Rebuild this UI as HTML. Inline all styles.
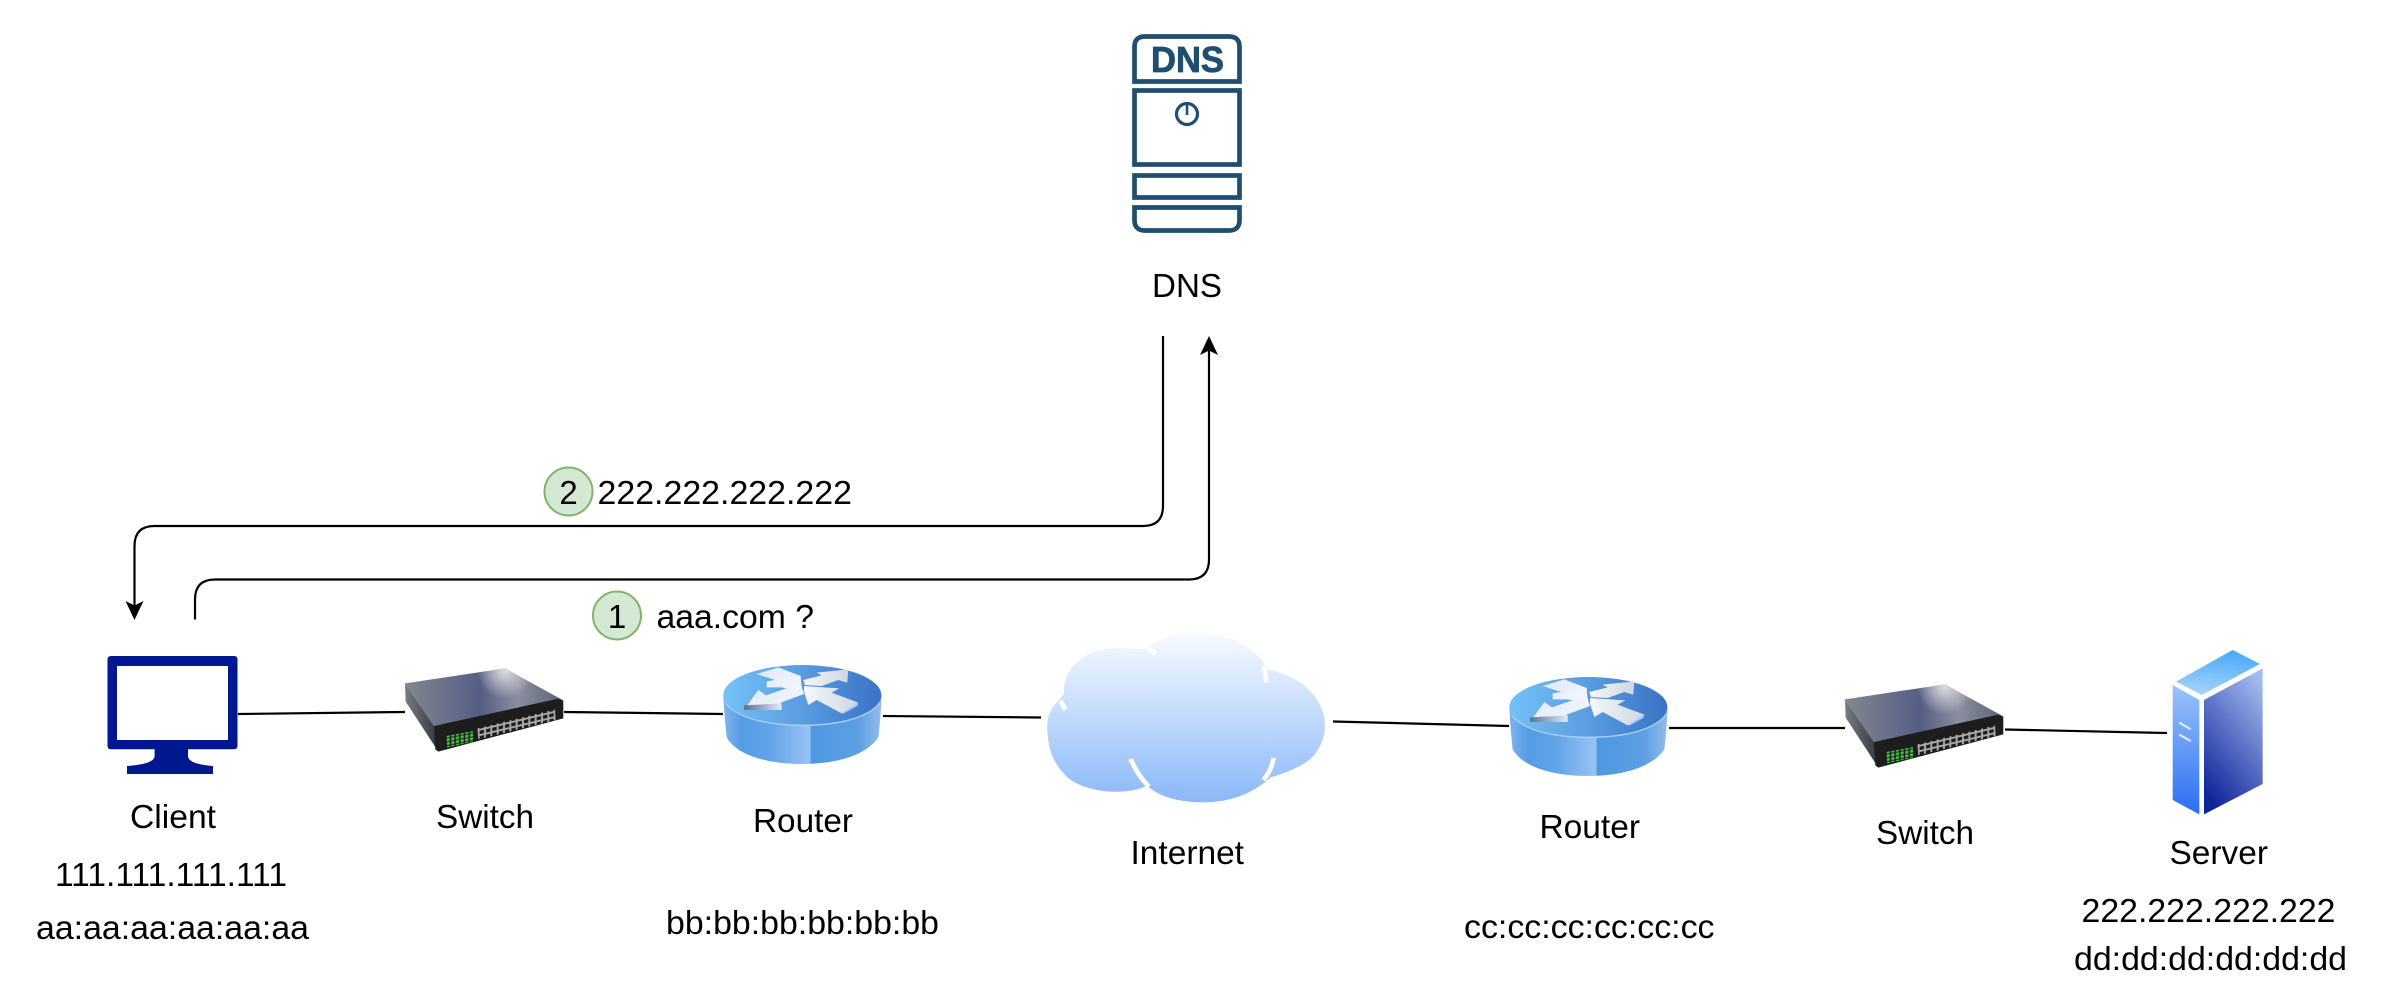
<!DOCTYPE html>
<html>
<head>
<meta charset="utf-8">
<style>
html,body{margin:0;padding:0;background:#fff}
svg{display:block}
text{font-family:"Liberation Sans",Arial,sans-serif;font-size:33px;fill:#000}
</style>
</head>
<body>
<svg xmlns="http://www.w3.org/2000/svg" width="2394" height="1004" viewBox="0 0 2394 1004">
<defs>
  <linearGradient id="cloudG" gradientUnits="userSpaceOnUse" x1="0" y1="38" x2="0" y2="547">
    <stop offset="0" stop-color="#f8fbff"/><stop offset="1" stop-color="#8ab8f8"/>
  </linearGradient>
  <linearGradient id="rTop" x1="0" y1="0" x2="1" y2="0">
    <stop offset="0" stop-color="#72c2f8"/><stop offset=".5" stop-color="#5a9ce0"/><stop offset="1" stop-color="#3a72c6"/>
  </linearGradient>
  <linearGradient id="rBody" gradientUnits="userSpaceOnUse" x1="40" y1="0" x2="515" y2="0">
    <stop offset="0" stop-color="#7fb4ee"/><stop offset=".12" stop-color="#559ce4"/><stop offset=".3" stop-color="#62a4e8"/>
    <stop offset=".55" stop-color="#98c4f4"/><stop offset=".551" stop-color="#4f97e4"/><stop offset=".85" stop-color="#5c9fe2"/><stop offset="1" stop-color="#94bcec"/>
  </linearGradient>
  <linearGradient id="arrowG" x1="0" y1="0" x2="1" y2="0.6">
    <stop offset="0" stop-color="#dfe8fa"/><stop offset="1" stop-color="#f2f5fb"/>
  </linearGradient>
  <linearGradient id="arrowH" x1="0" y1="0" x2="1" y2="0">
    <stop offset="0" stop-color="#f6f8fc"/><stop offset="1" stop-color="#ced7e0"/>
  </linearGradient>
  <linearGradient id="arrowD" x1="0" y1="0" x2="1" y2="0">
    <stop offset="0" stop-color="#5f6f96"/><stop offset="1" stop-color="#e2eafa"/>
  </linearGradient>
  <linearGradient id="sTop" gradientUnits="userSpaceOnUse" x1="45" y1="0" x2="515" y2="0">
    <stop offset="0" stop-color="#83888f"/><stop offset=".48" stop-color="#555d85"/><stop offset=".72" stop-color="#8a8d9e"/><stop offset="1" stop-color="#5e6476"/>
  </linearGradient>
  <radialGradient id="sHi" gradientUnits="userSpaceOnUse" cx="345" cy="62" r="85">
    <stop offset="0" stop-color="#dcdce0"/><stop offset="1" stop-color="#dcdce0" stop-opacity="0"/>
  </radialGradient>
  <linearGradient id="sLeft" x1="0" y1="0" x2="1" y2="0">
    <stop offset="0" stop-color="#777c86"/><stop offset="1" stop-color="#33353c"/>
  </linearGradient>
  <pattern id="ports" patternUnits="userSpaceOnUse" width="19" height="16" patternTransform="skewY(-13.5)">
    <rect width="19" height="16" fill="#a8a8a8"/><rect x="3" y="3" width="13" height="10" fill="#1c1c1c"/>
  </pattern>
  <pattern id="leds" patternUnits="userSpaceOnUse" width="14" height="11" patternTransform="skewY(-11)">
    <rect width="14" height="11" fill="#202020"/><rect x="2" y="2" width="9" height="8" fill="#3fc83f"/>
  </pattern>
  <linearGradient id="srvTop" x1="0.6" y1="0" x2="0.4" y2="1">
    <stop offset="0" stop-color="#48a8f8"/><stop offset="1" stop-color="#a4d4fb"/>
  </linearGradient>
  <linearGradient id="srvLeft" x1="0" y1="0" x2="0" y2="1">
    <stop offset="0" stop-color="#9cc4fa"/><stop offset="1" stop-color="#2a6ff2"/>
  </linearGradient>
  <linearGradient id="srvRight" x1="0.8" y1="0" x2="0.3" y2="1">
    <stop offset="0" stop-color="#a3bcef"/><stop offset="1" stop-color="#10249a"/>
  </linearGradient>

  <g id="switch" transform="translate(390 650) scale(.3333)">
    <polygon points="45,100 345,55 518,150 132,228" fill="url(#sTop)"/>
    <polygon points="45,100 345,55 518,150 132,228" fill="url(#sHi)"/>
    <polygon points="45,100 132,228 145,305 47,155" fill="url(#sLeft)"/>
    <polygon points="132,228 505,146 520,152 520,205 145,305 136,298" fill="#1d1d1d"/>
    <polygon points="262,235 495,178 497,210 265,268" fill="url(#ports)"/>
    <polygon points="168,258 250,243 250,275 172,292" fill="url(#leds)"/>
  </g>

  <g id="router" transform="translate(710 650) scale(.3333)">
    <path d="M40,135 C42,180 46,225 50,262 C80,315 170,342 275,342 C380,342 470,315 505,262 C510,225 513,180 515,135 Z" fill="url(#rBody)"/>
    <ellipse cx="277" cy="135" rx="237" ry="90" fill="url(#rTop)"/>
    <path d="M46,160 C85,205 170,226 277,226 C385,226 470,205 510,160" fill="none" stroke="#a9d0f6" stroke-width="4"/>
    <polygon points="103,178 145,120 168,136 272,100 282,132 212,158 215,180" fill="url(#arrowG)"/>
    <polygon points="102,166 215,160 215,180 102,180" fill="url(#arrowD)"/>
    <polygon points="140,72 205,52 272,78 276,125 215,112 170,112 170,94 195,90" fill="url(#arrowG)"/>
    <polygon points="320,68 415,58 412,98 385,90 335,108 285,105 280,90 335,76" fill="url(#arrowH)"/>
    <polygon points="282,108 388,115 365,128 445,158 395,190 320,150 295,165 282,125" fill="url(#arrowH)"/>
    <polygon points="395,190 445,158 442,168 402,190" fill="#a9c6f8"/>
  </g>
</defs>

<rect width="2394" height="1004" fill="#fff"/>

<!-- links -->
<g stroke="#000" stroke-width="2.200" fill="none">
  <line x1="238" y1="714" x2="405" y2="712"/>
  <line x1="564" y1="712" x2="723" y2="714"/>
  <line x1="883" y1="716" x2="1041" y2="717.500"/>
  <line x1="1333" y1="721.500" x2="1509" y2="726"/>
  <line x1="1669" y1="728" x2="1845" y2="728"/>
  <line x1="2005" y1="729.500" x2="2167" y2="733"/>
  <path d="M1163,336 V506 Q1163,526 1143,526 H154.500 Q134.500,526 134.500,546 V606"/>
  <path d="M195,619.500 V599.500 Q195,579.500 215,579.500 H1189 Q1209,579.500 1209,559.500 V350"/>
</g>
<polygon points="134.500,620 125.500,601 134.500,605.500 143.500,601" fill="#000"/>
<polygon points="1209,336 1200,355 1209,350.500 1218,355" fill="#000"/>

<!-- DNS icon -->
<g fill="none" stroke="#1f4e70" stroke-width="4.700">
  <path d="M1134.500,81.500 V47 Q1134.500,36.500 1145,36.500 H1229 Q1239.500,36.500 1239.500,47 V81.500 Z"/>
  <rect x="1134.500" y="90.500" width="105" height="74"/>
  <rect x="1134.500" y="175.500" width="105" height="22"/>
  <path d="M1134.500,207.500 V220 Q1134.500,230.500 1145,230.500 H1229 Q1239.500,230.500 1239.500,220 V207.500 Z"/>
  <circle cx="1187" cy="114" r="10.500" stroke-width="3.200"/>
  <line x1="1187" y1="105" x2="1187" y2="115" stroke-width="2.600"/>
</g>
<text x="1151" y="72" textLength="73" lengthAdjust="spacingAndGlyphs" style="font-weight:bold;font-size:36px;fill:#1f4e70;stroke:#1f4e70;stroke-width:.8px">DNS</text>

<!-- client -->
<path fill-rule="evenodd" fill="#00188f" d="M111,656 H234 Q237.500,656 237.500,659.500 V745.500 Q237.500,749.300 234,749.300 H188 V756 Q188,764 213,766 V774 H127 V766 Q154.600,764 154.600,756 V749.300 H111 Q107.500,749.300 107.500,745.500 V659.500 Q107.500,656 111,656 Z M117,666 V740 H228 V666 Z"/>

<use href="#switch"/>
<use href="#switch" transform="translate(1440 16)"/>
<use href="#router"/>
<use href="#router" transform="translate(786 12)"/>

<!-- cloud -->
<g transform="translate(1030 620) scale(.3333)">
  <path fill="url(#cloudG)" d="M85,243 C60,265 50,295 52,330 C55,390 70,430 110,470 C150,505 220,518 270,515 C310,513 335,505 352,497 C390,535 460,547 520,547 C600,547 670,520 722,472 C780,455 840,430 860,395 C880,365 885,340 885,315 C885,250 830,170 710,148 C690,90 600,38 490,38 C440,38 390,55 355,82 C320,90 300,85 260,85 C170,85 100,140 102,215 C103,225 90,235 85,243 Z"/>
  <g fill="none" stroke="#fff" stroke-width="14">
    <path d="M92,243 L106,270"/>
    <path d="M350,86 L378,100"/>
    <path d="M702,140 Q706,165 710,187"/>
    <path d="M301,417 C320,455 335,478 357,500"/>
    <path d="M731,414 C725,445 715,462 700,480"/>
  </g>
</g>

<!-- server -->
<g transform="translate(2150 640) scale(.3333)">
  <polygon points="78,125 248,30 330,72 155,165" fill="url(#srvTop)"/>
  <polygon points="68,135 148,180 148,523 68,480" fill="url(#srvLeft)"/>
  <polygon points="162,180 338,85 338,432 162,523" fill="url(#srvRight)"/>
  <line x1="88" y1="248" x2="122" y2="268" stroke="#e6f0ff" stroke-width="6"/>
  <line x1="88" y1="284" x2="122" y2="303" stroke="#e6f0ff" stroke-width="6"/>
</g>

<!-- badges -->
<circle cx="568.500" cy="491.500" r="24" fill="#d5e8d4" stroke="#82b366" stroke-width="2"/>
<circle cx="617" cy="615.500" r="24" fill="#d5e8d4" stroke="#82b366" stroke-width="2"/>
<text x="568.500" y="504" text-anchor="middle">2</text>
<text x="617" y="628" text-anchor="middle">1</text>

<!-- labels -->
<text x="597.500" y="504" textLength="254.500" lengthAdjust="spacingAndGlyphs">222.222.222.222</text>
<text x="656.500" y="628" textLength="157.500" lengthAdjust="spacingAndGlyphs">aaa.com ?</text>
<text x="1152" y="297" textLength="70" lengthAdjust="spacingAndGlyphs">DNS</text>
<text x="130" y="828" textLength="86" lengthAdjust="spacingAndGlyphs">Client</text>
<text x="436" y="828" textLength="98" lengthAdjust="spacingAndGlyphs">Switch</text>
<text x="55" y="886" textLength="232" lengthAdjust="spacingAndGlyphs">111.111.111.111</text>
<text x="36" y="939" textLength="273" lengthAdjust="spacingAndGlyphs">aa:aa:aa:aa:aa:aa</text>
<text x="753" y="832" textLength="100" lengthAdjust="spacingAndGlyphs">Router</text>
<text x="1130.500" y="864" textLength="113.500" lengthAdjust="spacingAndGlyphs">Internet</text>
<text x="666" y="934" textLength="273" lengthAdjust="spacingAndGlyphs">bb:bb:bb:bb:bb:bb</text>
<text x="1539.500" y="838" textLength="100.500" lengthAdjust="spacingAndGlyphs">Router</text>
<text x="1876" y="844" textLength="98" lengthAdjust="spacingAndGlyphs">Switch</text>
<text x="2169.500" y="864" textLength="98.500" lengthAdjust="spacingAndGlyphs">Server</text>
<text x="2081.500" y="922" textLength="254" lengthAdjust="spacingAndGlyphs">222.222.222.222</text>
<text x="1464" y="938" textLength="250.500" lengthAdjust="spacingAndGlyphs">cc:cc:cc:cc:cc:cc</text>
<text x="2074" y="970" textLength="273" lengthAdjust="spacingAndGlyphs">dd:dd:dd:dd:dd:dd</text>
</svg>
</body>
</html>
